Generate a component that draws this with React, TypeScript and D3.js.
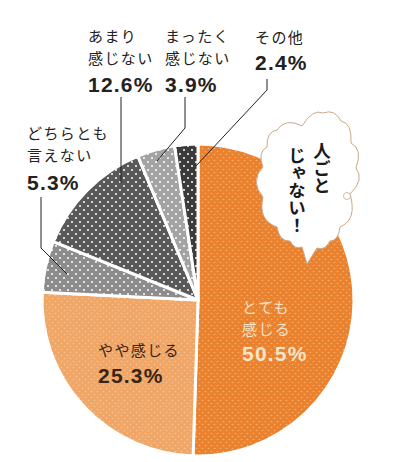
import React from "react";
import * as d3 from "d3";

// survey answers, clockwise from 12 o'clock
const categories = ["とても感じる", "やや感じる", "どちらとも言えない", "あまり感じない", "まったく感じない", "その他"];
const values = [50.5, 25.3, 5.3, 12.6, 3.9, 2.4];
const labelLines = [["とても", "感じる"], ["やや感じる"], ["どちらとも", "言えない"], ["あまり", "感じない"], ["まったく", "感じない"], ["その他"]];
const bubbleLines = ["人ごと", "じゃない！"];

const W = 398, H = 462;
const cx = 198, cy = 300, R = 156;

const sliceColors = ["#EA812F", "#EFA667", "#8C8C8C", "#595959", "#A3A3A3", "#3B3B3B"];
const dotColors = ["#F6B26C", "#F6C698", "#FFFFFF", "#FFFFFF", "#FFFFFF", "#FFFFFF"];

// where each label sits (first baseline) and its leader line
const labelLayout = [
  { x: 242, y: 313, color: "#F4E4C8", pctGap: 26, leader: null },
  { x: 98, y: 356, color: "#3A2414", pctGap: 27, leader: null },
  { x: 27, y: 139, color: "#222", pctGap: 29, leader: [[41, 197], [41, 248], [67, 274]] },
  { x: 88, y: 42, color: "#222", pctGap: 28, leader: [[121, 97], [121, 183]] },
  { x: 165, y: 42, color: "#222", pctGap: 28, leader: [[185, 97], [185, 128], [157, 161]] },
  { x: 255, y: 43, color: "#222", pctGap: 27, leader: [[267, 79], [267, 90], [196, 166]] },
];
const lineGap = 22;

// cloud outline points for the speech bubble
const cloudPts = [
  [277, 130], [302, 126], [323, 113], [341, 121], [351, 143], [356, 168], [350, 194],
  [340, 227], [330, 241], [317, 248], [307, 264], [302, 247], [290, 241], [277, 227],
  [263, 197], [263, 167], [267, 147],
];

function cloudPath() {
  const p = d3.path();
  p.moveTo(cloudPts[0][0], cloudPts[0][1]);
  for (let i = 1; i <= cloudPts.length; i++) {
    const a = cloudPts[i - 1];
    const b = cloudPts[i % cloudPts.length];
    const mx = (a[0] + b[0]) / 2, my = (a[1] + b[1]) / 2;
    // bulge outward from bubble centre
    const ox = mx - 310, oy = my - 185;
    const len = Math.hypot(ox, oy) || 1;
    const d = Math.hypot(b[0] - a[0], b[1] - a[1]);
    const tail = (i === 10 || i === 11);
    const k = tail ? 0 : d * 0.45;
    p.quadraticCurveTo(mx + (ox / len) * k, my + (oy / len) * k, b[0], b[1]);
  }
  p.closePath();
  return p.toString();
}

export default function App() {
  const pie = d3.pie<number>().sort(null).startAngle(0).endAngle(2 * Math.PI);
  const arcs = pie(values);
  const arc = d3.arc<d3.PieArcDatum<number>>().innerRadius(0).outerRadius(R);
  const fmt = (v: number) => `${v.toFixed(1)}%`;
  const line = d3.line();

  return (
    <svg width={W} height={H} style={{ position: "absolute", left: 0, top: 0, background: "#fff" }}>
      <defs>
        {sliceColors.map((c, i) => {
          const s = i < 2 ? 6 : 8;
          return (
            <pattern key={i} id={"dots" + i} width={s} height={s} patternUnits="userSpaceOnUse">
              <rect width={s} height={s} fill={c} />
              <circle cx={s / 4} cy={s / 4} r={i < 2 ? 0.8 : 1} fill={dotColors[i]} />
              <circle cx={(3 * s) / 4} cy={(3 * s) / 4} r={i < 2 ? 0.8 : 1} fill={dotColors[i]} />
            </pattern>
          );
        })}
      </defs>

      <g transform={`translate(${cx},${cy})`}>
        {arcs.map((a, i) => (
          <path key={categories[i]} d={arc(a) || ""} fill={`url(#dots${i})`} stroke="#fff" strokeWidth={3} strokeLinejoin="round" />
        ))}
      </g>

      {labelLayout.map((l, i) =>
        l.leader ? (
          <path key={"ld" + i} d={line(l.leader as [number, number][]) || ""} fill="none" stroke="#222" strokeWidth={1} />
        ) : null
      )}

      {labelLayout.map((l, i) => {
        const lines = labelLines[i];
        return (
          <text key={"lb" + i} x={l.x} y={l.y} fill={l.color} fontFamily="'Noto Sans CJK JP'" fontSize={15} letterSpacing={1.4}>
            {lines.map((t, j) => (
              <tspan key={j} x={l.x} dy={j === 0 ? 0 : lineGap}>
                {t}
              </tspan>
            ))}
            <tspan x={l.x} dy={l.pctGap} fontFamily="'Liberation Sans', Arial, sans-serif" fontWeight="bold" fontSize={21} letterSpacing={1.2}>
              {fmt(values[i])}
            </tspan>
          </text>
        );
      })}

      <path d={cloudPath()} fill="#fff" stroke="#C9A98A" strokeWidth={1} />
      <circle cx={347} cy={196} r={3.5} fill="#fff" stroke="#C9A98A" strokeWidth={0.8} />
      <text
        x={322}
        y={142}
        fontFamily="'Noto Sans CJK JP'"
        fontWeight="bold"
        fontSize={17.5}
        fill="#1a1a1a"
        style={{ writingMode: "vertical-rl" } as React.CSSProperties}
      >
        {bubbleLines.map((t, i) => (
          <tspan key={t} x={322 - i * 25} y={i === 0 ? 142 : 146}>
            {t}
          </tspan>
        ))}
      </text>
    </svg>
  );
}
